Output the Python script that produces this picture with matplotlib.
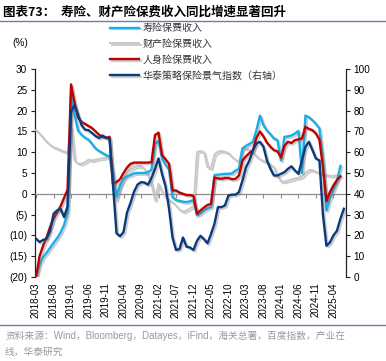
import numpy as np
import pandas as pd
import matplotlib
matplotlib.use('Agg')
import matplotlib.pyplot as plt
import matplotlib.patheffects as pe
from matplotlib.lines import Line2D
from matplotlib.ticker import FuncFormatter, MultipleLocator

plt.rcParams['font.family'] = ['Liberation Sans', 'Noto Sans CJK SC']

# monthly categories, 2018-03 onwards
months = pd.date_range('2018-03-01', periods=89, freq='MS').strftime('%Y-%m').tolist()

# 寿险保费收入 yoy (%)
life = [-20, -17, -15.2, -14.2, -13, -11.8, -10.7, -9.3, -7.5, -4.5,
        23.8, 19, 15.2, 14.2, 13.5, 13.0, 12.0, 10.9, 10.3, 9.8,
        9.3, 9.0, 5.0, -0.6, 2.0, 3.7, 4.2, 4.5, 4.9, 5.0,
        5.0, 5.0, 5.2, 5.8, 12.0, 12.7, 8.5, 7.0, 5.8, -0.8,
        -1.5, -1.7, -1.9, -2.0, -1.8, -1.5, -5.2, -4.7, -4.0, -3.5,
        -3.2, 4.5, 4.6, 4.7, 4.8, 4.8, 4.9, 5.6, 6.0, 10.9,
        11.5, 12.0, 12.5, 15.3, 18.8, 16.5, 15.2, 14.3, 13.3, 12.9,
        8.0, 13.7, 13.8, 14.0, 14.5, 15.1, 5.0, 18.8, 18.4, 17.7,
        16.8, 15.7, 8.0, -4.0, -1.0, 1.0, 3.0, 6.7]

# 财产险保费收入 yoy (%)
prop = [15.3, 14.5, 13.5, 12.5, 11.8, 11.2, 10.9, 10.5, 10.2, 9.8,
        16.0, 8.0, 7.3, 7.2, 7.6, 8.2, 8.0, 8.2, 8.4, 8.5,
        8.7, 8.9, 2.0, -1.6, 1.5, 3.5, 5.0, 5.8, 6.3, 6.6,
        6.7, 6.0, 4.5, 2.5, -1.6, 2.4, 0.5, -0.8, -1.5, -2.0,
        -2.8, -3.8, -4.3, -4.0, -3.5, -3.0, 10.0, 10.3, 10.0, 6.4,
        6.1, 9.5, 10.1, 10.3, 10.1, 9.8, 8.9, 8.2, 7.6, 11.0,
        10.9, 10.6, 10.0, 9.0, 8.3, 7.9, 7.5, 7.0, 6.4, 4.4,
        3.0, 2.9, 3.2, 3.4, 3.7, 3.8, 4.1, 5.0, 5.7, 5.7,
        5.3, 5.0, 4.8, 4.5, 4.3, 4.3, 4.4]

# 人身险保费收入 yoy (%)
person = [-20, -15, -12.5, -10.5, -8, -6, -4.5, -3, -1, 1,
          26.3, 22, 18.3, 17.3, 16.8, 16.3, 15.8, 15.0, 14.2, 13.7,
          13.4, 13.7, 2.4, 2.8, 3.5, 5.0, 6.3, 7.2, 7.5, 7.5,
          7.5, 7.5, 7.5, 7.6, 14.1, 14.7, 9.3, 8.3, 7.2, 0.8,
          0.8, 0.3, 0.0, -0.3, -0.3, -0.5, -4.8, -4.0, -3.3, -2.7,
          -2.4, 3.9, 3.7, 3.6, 3.8, 3.8, 3.5, 3.6, 4.4, 8.0,
          9.0, 9.8, 10.5, 13.5, 15.0, 13.8, 12.3, 11.3, 10.5, 10.2,
          8.7, 11.5, 12.5, 12.2, 12.9, 13.1, 13.3, 16.1, 15.6, 15.3,
          14.5, 13.0, 6.4, -1.8, 0.4, 2.0, 3.3, 4.2]

# 华泰策略保险景气指数 (right axis)
index = [18.4, 16.8, 17.8, 18.4, 22.0, 30.4, 32.0, 32.8, 28.8, 34.0,
         79.4, 82.6, 78.0, 73.0, 70.8, 70.6, 69.2, 67.8, 66.8, 68.0,
         67.0, 66.6, 44.0, 21.0, 19.6, 21.6, 31.0, 35.6, 41.0, 44.4,
         45.6, 45.4, 44.4, 47.6, 52.0, 57.0, 49.6, 43.6, 33.0, 19.0,
         13.0, 13.4, 19.0, 14.6, 14.2, 13.0, 17.4, 19.8, 18.2, 16.2,
         20.6, 25.6, 33.6, 33.6, 34.4, 39.2, 39.6, 39.6, 40.8, 46.4,
         52.8, 56.0, 61.0, 64.2, 65.0, 62.6, 56.0, 52.0, 48.8, 48.8,
         49.6, 50.4, 52.0, 53.2, 51.2, 49.6, 56.0, 62.6, 65.0, 61.0,
         57.0, 56.0, 30.0, 15.0, 16.6, 20.0, 22.2, 28.0, 32.8]

labels = ['寿险保费收入', '财产险保费收入', '人身险保费收入', '华泰策略保险景气指数（右轴）']
colors = ['#17AEEA', '#C8C8C8', '#C00000', '#0B3A7C']

fig = plt.figure(figsize=(3.86, 3.61), dpi=100)
ax = fig.add_axes([0.0907, 0.2327, 0.8057, 0.5762])
ax2 = ax.twinx()

def shadow():
    return [pe.SimpleLineShadow(offset=(1.2, -1.2), shadow_color='#707070', alpha=0.35),
            pe.Normal()]

h_prop, = ax.plot(np.arange(len(prop)), prop, color=colors[1], lw=1.4,
                  path_effects=shadow(), zorder=3)
h_life, = ax.plot(np.arange(len(life)), life, color=colors[0], lw=1.7,
                  path_effects=shadow(), zorder=3)
h_person, = ax.plot(np.arange(len(person)), person, color=colors[2], lw=1.7,
                    path_effects=shadow(), zorder=3)
h_idx, = ax2.plot(np.arange(len(index)), index, color=colors[3], lw=1.7,
                  path_effects=shadow(), zorder=3)

ax.set_xlim(-0.3, 88.6)
ax.set_ylim(-20, 30)
ax2.set_ylim(0, 100)
ax.yaxis.set_major_locator(MultipleLocator(5))
ax2.yaxis.set_major_locator(MultipleLocator(10))
ax.yaxis.set_major_formatter(FuncFormatter(lambda v, p: f'({abs(int(v))})' if v < 0 else f'{int(v)}'))

for s in ['top', 'right']:
    ax.spines[s].set_visible(False)
for s in ['top', 'left', 'bottom']:
    ax2.spines[s].set_visible(False)
ax.spines['left'].set_color('#222222')
ax.spines['left'].set_linewidth(0.9)
ax2.spines['right'].set_color('#222222')
ax2.spines['right'].set_linewidth(0.9)

# category axis crossing at zero
ax.spines['bottom'].set_position(('data', 0))
ax.spines['bottom'].set_color('#8C8C8C')
ax.spines['bottom'].set_linewidth(0.9)
ticks = list(range(0, len(months), 5))[:18]
ax.set_xticks(ticks)
ax.tick_params(axis='x', direction='out', length=3, color='#8C8C8C', labelbottom=False)

sec = ax.secondary_xaxis('bottom')
sec.spines['bottom'].set_visible(False)
sec.set_xticks(ticks)
sec.set_xticklabels([months[i] for i in ticks], rotation=90, fontsize=7)
sec.tick_params(length=0, pad=4)

ax.tick_params(axis='y', direction='out', length=3, width=0.8, labelsize=7.2, pad=2.5,
               color='#222222')
ax2.tick_params(axis='y', direction='out', length=3, width=0.8, labelsize=7.2, pad=2.5,
                color='#222222')

fig.text(0.008, 0.965, '图表73：  寿险、财产险保费收入同比增速显著回升', fontsize=9,
         fontweight='bold', family=['Noto Sans CJK SC'], va='center', ha='left')
fig.add_artist(Line2D([0, 1], [0.941, 0.941], color='#5F82B5', lw=1.0))
fig.text(0.031, 0.88, '(%)', fontsize=7.2, va='center', ha='left')

fig.legend([h_life, h_prop, h_person, h_idx], labels, loc='upper left',
           bbox_to_anchor=(0.272, 0.95), frameon=False, borderpad=0,
           handlelength=2.9, handletextpad=0.4, labelspacing=0.58,
           prop={'family': ['Noto Sans CJK SC'], 'size': 7.2}, labelcolor='#333333')

fig.add_artist(Line2D([0, 1], [0.101, 0.101], color='#5F82B5', lw=1.0))
fig.text(0.013, 0.048, '资料来源：Wind，Bloomberg，Datayes，iFind，海关总署，百度指数，产业在\n线，华泰研究',
         fontsize=7, color='#9A9A9A', va='center', ha='left', linespacing=1.8)

fig.savefig('out.png', dpi=100)
